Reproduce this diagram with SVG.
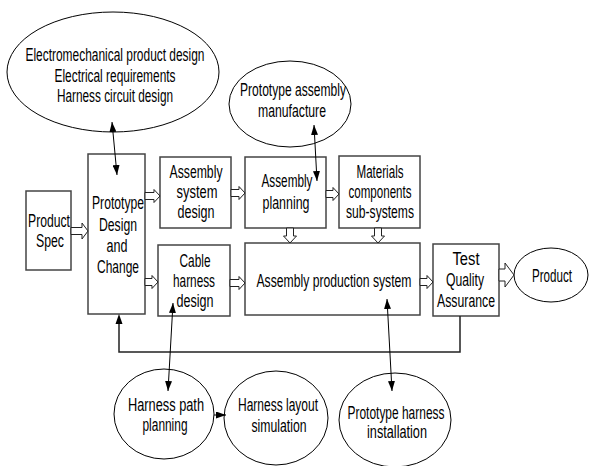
<svg xmlns="http://www.w3.org/2000/svg" width="589" height="466" viewBox="0 0 589 466">
<style>
.box{fill:#fff;stroke:#444;stroke-width:1.5}
.ell{fill:#fff;stroke:#000;stroke-width:1}
.t{font-family:"Liberation Sans",Arial,sans-serif;font-size:17.5px;fill:#000;text-anchor:middle}
.ha{fill:#fff;stroke:#222;stroke-width:1}
.ln{fill:none;stroke:#000;stroke-width:1}
.fb{fill:none;stroke:#222;stroke-width:1.5}
</style>
<defs>
<marker id="ah" viewBox="0 0 10 8" refX="10" refY="4" markerWidth="10" markerHeight="7" markerUnits="userSpaceOnUse" orient="auto-start-reverse" preserveAspectRatio="none">
<path d="M0,0 L10,4 L0,8 Z" fill="#000"/>
</marker>
</defs>

<g id="design-inputs">
<ellipse class="ell" cx="113" cy="72" rx="106" ry="60"/>
<text class="t" x="115" y="61" textLength="179" lengthAdjust="spacingAndGlyphs">Electromechanical product design</text>
<text class="t" x="115" y="82" textLength="121" lengthAdjust="spacingAndGlyphs">Electrical requirements</text>
<text class="t" x="115" y="102" textLength="116" lengthAdjust="spacingAndGlyphs">Harness circuit design</text>
</g>

<g id="proto-assembly-manufacture">
<ellipse class="ell" cx="290" cy="104" rx="61" ry="43"/>
<text class="t" x="293" y="96" textLength="106" lengthAdjust="spacingAndGlyphs">Prototype assembly</text>
<text class="t" x="292" y="117" textLength="68" lengthAdjust="spacingAndGlyphs">manufacture</text>
</g>

<g id="product-spec">
<rect class="box" x="26" y="191" width="45" height="79"/>
<text class="t" x="49" y="227" textLength="42" lengthAdjust="spacingAndGlyphs">Product</text>
<text class="t" x="50" y="247" textLength="28" lengthAdjust="spacingAndGlyphs">Spec</text>
</g>

<g id="prototype-design">
<rect class="box" x="88" y="154" width="57" height="160"/>
<text class="t" x="118" y="209" textLength="52" lengthAdjust="spacingAndGlyphs">Prototype</text>
<text class="t" x="118" y="231" textLength="38" lengthAdjust="spacingAndGlyphs">Design</text>
<text class="t" x="117" y="252" textLength="21" lengthAdjust="spacingAndGlyphs">and</text>
<text class="t" x="118" y="273" textLength="42" lengthAdjust="spacingAndGlyphs">Change</text>
</g>

<g id="assembly-system-design">
<rect class="box" x="160" y="157" width="71" height="71"/>
<text class="t" x="196" y="178" textLength="53" lengthAdjust="spacingAndGlyphs">Assembly</text>
<text class="t" x="197" y="198" textLength="41" lengthAdjust="spacingAndGlyphs">system</text>
<text class="t" x="196" y="218" textLength="37" lengthAdjust="spacingAndGlyphs">design</text>
</g>

<g id="cable-harness-design">
<rect class="box" x="158" y="245" width="72" height="71"/>
<text class="t" x="195" y="267" textLength="31" lengthAdjust="spacingAndGlyphs">Cable</text>
<text class="t" x="194" y="287" textLength="42" lengthAdjust="spacingAndGlyphs">harness</text>
<text class="t" x="195" y="307" textLength="37" lengthAdjust="spacingAndGlyphs">design</text>
</g>

<g id="assembly-planning">
<rect class="box" x="245" y="157" width="81" height="71"/>
<text class="t" x="287" y="187" textLength="51" lengthAdjust="spacingAndGlyphs">Assembly</text>
<text class="t" x="286" y="209" textLength="47" lengthAdjust="spacingAndGlyphs">planning</text>
</g>

<g id="materials">
<rect class="box" x="339" y="156" width="81" height="72"/>
<text class="t" x="380" y="178" textLength="47" lengthAdjust="spacingAndGlyphs">Materials</text>
<text class="t" x="380" y="198" textLength="63" lengthAdjust="spacingAndGlyphs">components</text>
<text class="t" x="380" y="218" textLength="68" lengthAdjust="spacingAndGlyphs">sub-systems</text>
</g>

<g id="assembly-production-system">
<rect class="box" x="245" y="243" width="175" height="72"/>
<text class="t" x="334" y="287" textLength="155" lengthAdjust="spacingAndGlyphs">Assembly production system</text>
</g>

<g id="test-qa">
<rect class="box" x="433" y="244" width="66" height="72"/>
<text class="t" x="466" y="265" textLength="27" lengthAdjust="spacingAndGlyphs">Test</text>
<text class="t" x="465" y="286" textLength="38" lengthAdjust="spacingAndGlyphs">Quality</text>
<text class="t" x="466" y="307" textLength="58" lengthAdjust="spacingAndGlyphs">Assurance</text>
</g>

<g id="product">
<ellipse class="ell" cx="551" cy="275" rx="37" ry="27"/>
<text class="t" x="552" y="282" textLength="40" lengthAdjust="spacingAndGlyphs">Product</text>
</g>

<g id="harness-path-planning">
<ellipse class="ell" cx="164" cy="414" rx="50" ry="45"/>
<text class="t" x="166" y="411" textLength="76" lengthAdjust="spacingAndGlyphs">Harness path</text>
<text class="t" x="165" y="431" textLength="45" lengthAdjust="spacingAndGlyphs">planning</text>
</g>

<g id="harness-layout-simulation">
<ellipse class="ell" cx="276" cy="418" rx="52" ry="47"/>
<text class="t" x="278" y="411" textLength="80" lengthAdjust="spacingAndGlyphs">Harness layout</text>
<text class="t" x="279" y="432" textLength="55" lengthAdjust="spacingAndGlyphs">simulation</text>
</g>

<g id="prototype-harness-installation">
<ellipse class="ell" cx="395" cy="420" rx="56" ry="47"/>
<text class="t" x="396" y="419" textLength="97" lengthAdjust="spacingAndGlyphs">Prototype harness</text>
<text class="t" x="397" y="438" textLength="60" lengthAdjust="spacingAndGlyphs">installation</text>
</g>

<g id="connectors">
<path class="ha" d="M71,227.5 L82,227.5 L82,223 L88,231 L82,239 L82,234.5 L71,234.5 Z"/>
<path class="ha" d="M145,192.5 L154,192.5 L154,189.5 L160,196 L154,202.5 L154,199.5 L145,199.5 Z"/>
<path class="ha" d="M145,278.5 L152,278.5 L152,275.5 L158,282 L152,288.5 L152,285.5 L145,285.5 Z"/>
<path class="ha" d="M231,189.5 L239,189.5 L239,186.5 L245,193 L239,199.5 L239,196.5 L231,196.5 Z"/>
<path class="ha" d="M230,279.5 L239,279.5 L239,276.5 L245,283 L239,289.5 L239,286.5 L230,286.5 Z"/>
<path class="ha" d="M326,190.5 L333,190.5 L333,187.5 L339,194 L333,200.5 L333,197.5 L326,197.5 Z"/>
<path class="ha" d="M420,278.5 L427,278.5 L427,275.5 L433,282 L427,288.5 L427,285.5 L420,285.5 Z"/>
<path class="ha" d="M286.5,228 L286.5,236 L283.5,236 L290,243 L296.5,236 L293.5,236 L293.5,228 Z"/>
<path class="ha" d="M374.5,228 L374.5,236 L371.5,236 L378,243 L384.5,236 L381.5,236 L381.5,228 Z"/>
<path class="ha" d="M499,269 L505,269 L505,263 L514,275 L505,287 L505,281 L499,281 Z"/>
<polyline class="fb" points="460,316 460,352 119,352 119,323"/>
<path d="M119,314 L115.5,324 L122.5,324 Z" fill="#000"/>
<line class="ln" x1="112" y1="122" x2="117" y2="175" marker-start="url(#ah)" marker-end="url(#ah)"/>
<line class="ln" x1="314" y1="125" x2="317" y2="181" marker-start="url(#ah)" marker-end="url(#ah)"/>
<line class="ln" x1="173" y1="303" x2="168" y2="391" marker-start="url(#ah)" marker-end="url(#ah)"/>
<line class="ln" x1="387" y1="299" x2="392" y2="391" marker-start="url(#ah)" marker-end="url(#ah)"/>
<line class="ln" x1="214" y1="415" x2="226" y2="415" marker-end="url(#ah)"/>
</g>
</svg>
